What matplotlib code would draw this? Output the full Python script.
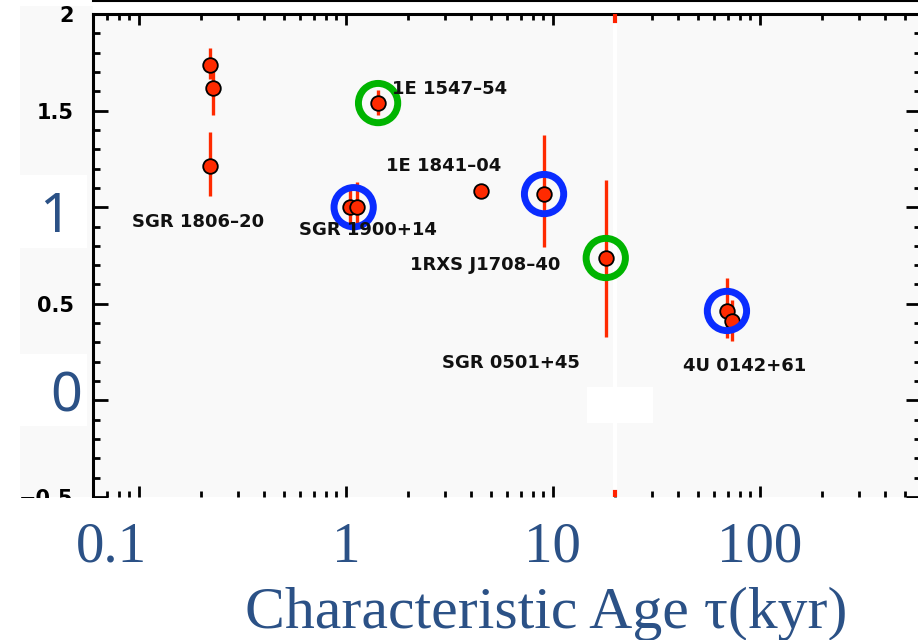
import matplotlib
matplotlib.use('Agg')
import matplotlib.pyplot as plt
from matplotlib.patches import Rectangle
from matplotlib.lines import Line2D
from matplotlib.ticker import MultipleLocator, LogLocator, NullFormatter, FixedLocator

W, H = 918, 640

# magnetar sources: characteristic age (kyr) and value with error bars
names = ['SGR 1806\u201320', 'SGR 1806\u201320', 'SGR 1806\u201320',
         'SGR 1900+14', 'SGR 1900+14', '1E 1547\u201354', '1E 1841\u201304',
         '1RXS J1708\u201340', 'SGR 0501+45', '4U 0142+61', '4U 0142+61']
age = [0.220, 0.228, 0.220, 1.045, 1.13, 1.43, 4.49, 9.06, 18.0, 69.3, 73.3]
val = [1.736, 1.617, 1.213, 1.0, 1.0, 1.539, 1.084, 1.068, 0.737, 0.463, 0.411]
err_lo = [0.07, 0.14, 0.155, 0.10, 0.10, 0.062, 0.0, 0.274, 0.409, 0.140, 0.104]
err_hi = [0.088, 0.10, 0.176, 0.104, 0.130, 0.068, 0.0, 0.306, 0.404, 0.171, 0.109]

# label text and where it sits (age, value)
label_txt = ['SGR 1806\u201320', 'SGR 1900+14', '1E 1547\u201354', '1E 1841\u201304',
             '1RXS J1708\u201340', 'SGR 0501+45', '4U 0142+61']
label_x = [0.192, 1.284, 3.15, 2.97, 4.72, 6.27, 84.7]
label_y = [0.923, 0.882, 1.612, 1.213, 0.701, 0.194, 0.178]

# highlighted sources (index into age/val) and ring colour
ring_idx = [5, 8, 9, 7]
ring_col = ['#00b400', '#00b400', '#0a2cff', '#0a2cff']
ring_pair_x = [1.09]      # SGR 1900+14 pair is ringed between its two points
ring_pair_y = [1.0]

xtick_vals = [0.1, 1, 10, 100]
xtick_txt = ['0.1', '1', '10', '100']

blue = '#2b5186'
bg = '#f9f9f9'

fig = plt.figure(figsize=(W / 100, H / 100), dpi=100)
fig.patch.set_facecolor('white')

# grey strip behind the y labels, with white patches under the big digits
fig.patches.append(Rectangle((20 / W, 143 / H), 73 / W, 491 / H, transform=fig.transFigure,
                             facecolor=bg, edgecolor='none', zorder=-2))
for y0, y1 in [(175, 248), (354, 426)]:
    fig.patches.append(Rectangle((20 / W, 1 - y1 / H), 67 / W, (y1 - y0) / H,
                                 transform=fig.transFigure, facecolor='white',
                                 edgecolor='none', zorder=-1))

ax = fig.add_axes([93 / W, 143 / H, 828 / W, 483 / H])
ax.set_facecolor(bg)
ax.set_xscale('log')
ax.set_xlim(0.06, 600)
ax.set_ylim(-0.5, 2.0)

# faint vertical gap at 20 kyr and a blank patch
ax.axvline(20, color='white', lw=3, zorder=0.5)
ax.axvline(20, ymin=0.985, ymax=1.0, color='#ff2200', lw=3, zorder=3)
ax.axvline(20, ymin=0.0, ymax=0.01, color='#ff2200', lw=3, zorder=3)
ax.add_patch(Rectangle((14.6, -0.117), 15.8, 0.186, facecolor='white', edgecolor='none', zorder=0.6))

ax.errorbar(age, val, yerr=[err_lo, err_hi], fmt='o', color='#ff2a00', ecolor='#ff2a00',
            elinewidth=2.4, capsize=0, ms=10.5, mfc='#ff2a00', mec='black', mew=1.3, zorder=3)

ax.scatter([age[i] for i in ring_idx], [val[i] for i in ring_idx], s=800,
           facecolors='none', edgecolors=ring_col, linewidths=5, zorder=4)
ax.scatter(ring_pair_x, ring_pair_y, s=800, facecolors='none',
           edgecolors='#0a2cff', linewidths=5, zorder=4)

for t, x, y in zip(label_txt, label_x, label_y):
    ax.text(x, y, t, ha='center', va='center', fontsize=13, fontweight='bold',
            family='DejaVu Sans', color='#111111', zorder=5)

# axes frame: thick spines, inward ticks, bottom spine cut off
for s in ['left', 'top', 'right']:
    ax.spines[s].set_linewidth(2.2)
ax.spines['bottom'].set_visible(False)

ax.xaxis.set_major_locator(FixedLocator(xtick_vals))
ax.xaxis.set_minor_locator(LogLocator(base=10, subs=range(2, 10), numticks=20))
ax.xaxis.set_major_formatter(NullFormatter())
ax.xaxis.set_minor_formatter(NullFormatter())
ax.tick_params(axis='x', which='major', direction='in', top=True, bottom=True,
               length=8, width=2)
ax.tick_params(axis='x', which='minor', direction='in', top=True, bottom=True,
               length=4.5, width=2)

ax.yaxis.set_major_locator(MultipleLocator(0.5))
ax.yaxis.set_minor_locator(MultipleLocator(0.1))
ax.set_yticks([-0.5, 0, 0.5, 1, 1.5, 2])
ax.set_yticklabels(['\u22120.5', '', '0.5', '', '1.5', '2'])
ax.tick_params(axis='y', which='major', direction='in', left=True, right=True,
               length=11, width=2, pad=14, labelsize=15)
ax.tick_params(axis='y', which='minor', direction='in', left=True, right=True,
               length=5, width=2)
for lab in ax.get_yticklabels():
    lab.set_fontweight('bold')
    lab.set_family('DejaVu Sans')

# white band under the plot that clips the lowest tick label
fig.patches.append(Rectangle((0, 0), 1, 142 / H, transform=fig.transFigure,
                             facecolor='white', edgecolor='none', zorder=1))
fig.lines.append(Line2D([93 / W, 1], [1 - 1 / H, 1 - 1 / H], transform=fig.transFigure,
                        color='black', lw=1.5, zorder=1))

# big blue labels, placed on the figure so they sit above the white band
fig.text(55 / W, 1 - 218 / H, '1', ha='center', va='center', fontsize=40,
         family='Noto Sans', color=blue, zorder=2)
fig.text(66 / W, 1 - 397 / H, '0', ha='center', va='center', fontsize=40,
         family='Noto Sans', color=blue, zorder=2)
for v, t in zip(xtick_vals, xtick_txt):
    px = ax.transData.transform((v, 0))[0]
    if v == 0.1:
        px -= 27
    fig.text(px / W, 1 - 562 / H, t, ha='center', va='baseline', fontsize=41,
             family='Liberation Serif', color=blue, zorder=2)
fig.text(546 / W, 1 - 628 / H, 'Characteristic Age \u03c4(kyr)', ha='center', va='baseline',
         fontsize=43, family='Liberation Serif', color=blue, zorder=2)

fig.savefig('out.png', dpi=100, facecolor=fig.get_facecolor())
